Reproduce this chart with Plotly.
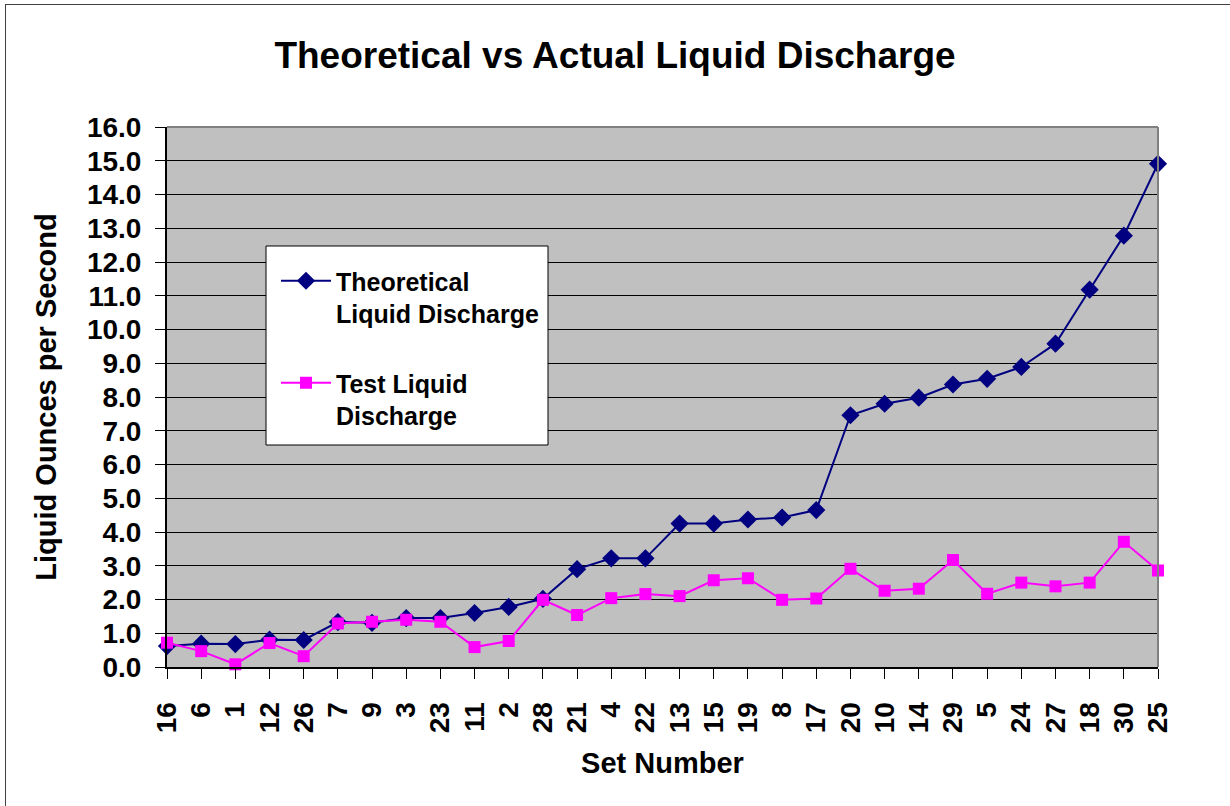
import plotly.graph_objects as go

set_numbers = ["16", "6", "1", "12", "26", "7", "9", "3", "23", "11", "2", "28", "21", "4", "22",
               "13", "15", "19", "8", "17", "20", "10", "14", "29", "5", "24", "27", "18", "30", "25"]
theoretical = [0.62, 0.69, 0.68, 0.81, 0.80, 1.33, 1.31, 1.45, 1.45, 1.60, 1.78, 2.02, 2.90, 3.22, 3.22,
               4.25, 4.25, 4.37, 4.43, 4.65, 7.46, 7.80, 7.98, 8.37, 8.54, 8.89, 9.58, 11.18, 12.78, 14.91]
test = [0.72, 0.47, 0.08, 0.71, 0.32, 1.29, 1.34, 1.40, 1.34, 0.59, 0.77, 1.99, 1.54, 2.04, 2.16,
        2.10, 2.57, 2.63, 1.99, 2.03, 2.91, 2.26, 2.32, 3.17, 2.17, 2.50, 2.39, 2.50, 3.71, 2.86]
y_ticks = [i for i in range(0, 17)]
y_tick_text = [f"{v:.1f}" for v in y_ticks]

FONT = "Liberation Sans, Arial, sans-serif"

fig = go.Figure()
fig.add_trace(go.Scatter(
    x=set_numbers, y=theoretical, mode="lines+markers",
    name="Theoretical<br>Liquid Discharge", legendgroup="a",
    line=dict(color="#000080", width=2),
    marker=dict(symbol="diamond", size=14, color="#000080"),
    cliponaxis=False,
))
fig.add_trace(go.Scatter(
    x=set_numbers, y=test, mode="lines+markers",
    name="Test Liquid<br>Discharge", legendgroup="b",
    line=dict(color="#FF00FF", width=2),
    marker=dict(symbol="square", size=12, color="#FF00FF"),
    cliponaxis=False,
))

L, R, T, B = 167, 1158, 127, 667
W, H = R - L, B - T

def px_x(p):
    return (p - L) / W

def px_y(p):
    return (B - p) / H

fig.update_layout(
    width=1230, height=806,
    margin=dict(l=L, r=1230 - R, t=T, b=806 - B, autoexpand=False),
    paper_bgcolor="white",
    plot_bgcolor="#C0C0C0",
    font=dict(family=FONT, size=26, color="black", weight="bold"),
    title=dict(text="Theoretical vs Actual Liquid Discharge", x=0.5, xanchor="center",
               y=1 - 55 / 806, yanchor="middle",
               font=dict(family=FONT, size=37, color="black", weight="bold")),
    showlegend=True,
    legend=dict(x=px_x(276), y=px_y(258), xanchor="left", yanchor="top",
                bgcolor="rgba(0,0,0,0)", borderwidth=0,
                font=dict(family=FONT, size=25, color="black", weight="bold"),
                traceorder="grouped", tracegroupgap=34, itemwidth=50, valign="top"),
    xaxis=dict(
        type="category", range=[0, len(set_numbers) - 1],
        tickangle=-90, ticks="outside", ticklen=10, tickcolor="black",
        ticklabelstandoff=12,
        showgrid=False, zeroline=False, showline=True, linecolor="black", linewidth=2,
        tickfont=dict(family=FONT, size=28, color="black", weight="bold"),
        title=dict(text="Set Number", standoff=20,
                   font=dict(family=FONT, size=29, color="black", weight="bold")),
    ),
    yaxis=dict(
        range=[0, 16], tickvals=y_ticks, ticktext=y_tick_text,
        ticks="outside", ticklen=10, tickcolor="black",
        ticklabelstandoff=8,
        showgrid=True, gridcolor="black", gridwidth=1, zeroline=False,
        showline=True, linecolor="black", linewidth=2,
        tickfont=dict(family=FONT, size=28, color="black", weight="bold"),
        title=dict(text="Liquid Ounces per Second", standoff=22,
                   font=dict(family=FONT, size=29, color="black", weight="bold")),
    ),
    shapes=[
        dict(type="line", xref="paper", yref="paper", x0=0, x1=1, y0=1, y1=1,
             line=dict(color="#808080", width=2), layer="above"),
        dict(type="line", xref="paper", yref="paper", x0=1, x1=1, y0=0, y1=1,
             line=dict(color="#808080", width=2), layer="above"),
        dict(type="rect", xref="paper", yref="paper", x0=px_x(266), x1=px_x(548),
             y0=px_y(445), y1=px_y(246),
             line=dict(color="black", width=1), fillcolor="white", layer="above"),
        dict(type="line", xref="paper", yref="paper", x0=px_x(5), x1=px_x(1230),
             y0=px_y(4.5), y1=px_y(4.5),
             line=dict(color="#404040", width=1), layer="above"),
        dict(type="line", xref="paper", yref="paper", x0=px_x(5.5), x1=px_x(5.5),
             y0=px_y(806), y1=px_y(4.5),
             line=dict(color="#404040", width=1), layer="above"),
    ],
)

fig.write_html("out.html", config={"displayModeBar": False},
               post_script="document.body.style.margin='0';")
